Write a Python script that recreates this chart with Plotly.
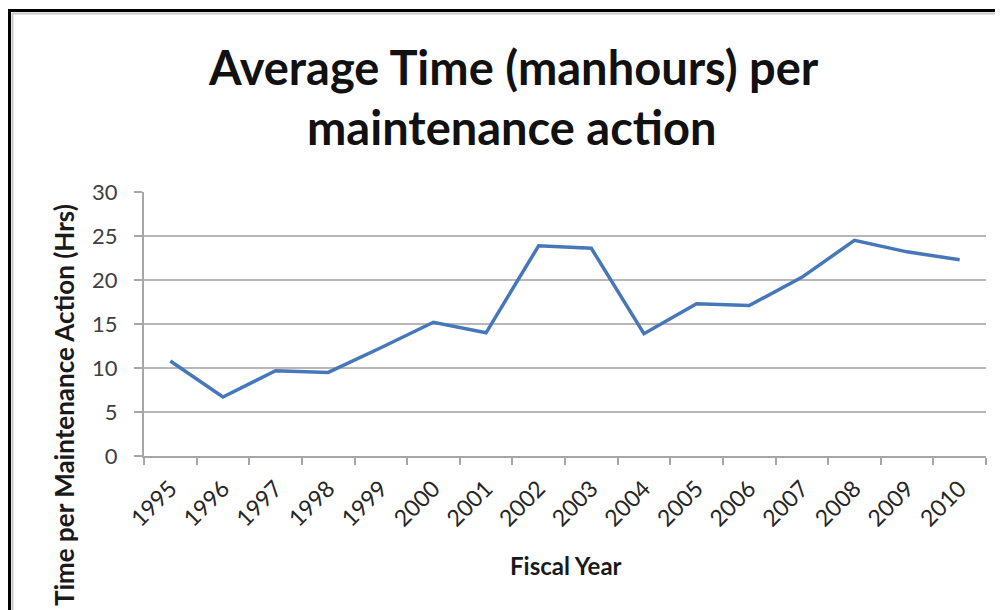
import plotly.graph_objects as go

years = ["1995", "1996", "1997", "1998", "1999", "2000", "2001", "2002",
         "2003", "2004", "2005", "2006", "2007", "2008", "2009", "2010"]
hours = [10.8, 6.7, 9.7, 9.5, 12.3, 15.2, 14.0, 23.9,
         23.6, 13.9, 17.3, 17.1, 20.3, 24.5, 23.2, 22.3]

title_line1 = "Average Time (manhours) per"
title_line2 = "maintenance action"
x_title = "Fiscal Year"
y_title = "Time per Maintenance Action (Hrs)"

# page has an 8px body margin; figure is sized to fill the rest of the window
OFF = 8
W, H = 1003 - OFF, 610 - OFF
PL, PR, PT, PB = 144, 986, 192, 456   # plot area in window pixels
L, T = PL - OFF, PT - OFF
R = W - (PR - OFF)
B = H - (PB - OFF)


def px_x(p):
    return (p - PL) / (PR - PL)


def px_y(p):
    return (PB - p) / (PB - PT)


font_family = "Lato, Liberation Sans, Arial, sans-serif"

fig = go.Figure()
fig.add_trace(go.Scatter(x=years, y=hours, mode="lines",
                         line=dict(color="#4677B8", width=3.5),
                         showlegend=False))

fig.update_layout(
    width=W, height=H,
    margin=dict(l=L, r=R, t=T, b=B),
    paper_bgcolor="white", plot_bgcolor="white",
    xaxis=dict(type="category", tickson="boundaries", ticks="outside", ticklen=7,
               tickcolor="#A6A6A6", tickwidth=1.5,
               showline=True, linecolor="#A6A6A6", linewidth=2,
               showgrid=False, tickangle=-45, ticklabelstandoff=8,
               tickfont=dict(family=font_family, size=23, color="#262626"),
               range=[-0.5, 15.5]),
    yaxis=dict(range=[0, 30], dtick=5, ticks="outside", ticklen=8,
               tickcolor="#A6A6A6", tickwidth=1.5,
               showline=True, linecolor="#A6A6A6", linewidth=2,
               showgrid=True, gridcolor="#B8B8B8", gridwidth=2,
               zeroline=False, ticklabelstandoff=12,
               tickfont=dict(family=font_family, size=22, color="#404040")),
    annotations=[
        dict(text="<b>" + title_line1 + "</b>", xref="paper", yref="paper",
             x=px_x(513), y=px_y(67), xanchor="center", yanchor="middle",
             showarrow=False,
             font=dict(family=font_family, size=47, color="#111111")),
        dict(text="<b>" + title_line2 + "</b>", xref="paper", yref="paper",
             x=px_x(512), y=px_y(127), xanchor="center", yanchor="middle",
             showarrow=False,
             font=dict(family=font_family, size=47, color="#111111")),
        dict(text="<b>" + y_title + "</b>", xref="paper", yref="paper",
             x=px_x(64), y=px_y(405), xanchor="center", yanchor="middle",
             textangle=-90, showarrow=False,
             font=dict(family=font_family, size=26, color="#1A1A1A")),
        dict(text="<b>" + x_title + "</b>", xref="paper", yref="paper",
             x=px_x(566), y=px_y(565), xanchor="center", yanchor="middle",
             showarrow=False,
             font=dict(family=font_family, size=24, color="#1A1A1A")),
    ],
    shapes=[
        dict(type="rect", xref="paper", yref="paper",
             x0=px_x(12.5), x1=px_x(1030), y0=px_y(13.5), y1=px_y(640),
             line=dict(color="#C8C8C8", width=2), fillcolor="rgba(0,0,0,0)"),
        dict(type="rect", xref="paper", yref="paper",
             x0=px_x(9.5), x1=px_x(1030), y0=px_y(10.5), y1=px_y(640),
             line=dict(color="#000000", width=3), fillcolor="rgba(0,0,0,0)"),
    ],
)

fig.write_html("out.html")
